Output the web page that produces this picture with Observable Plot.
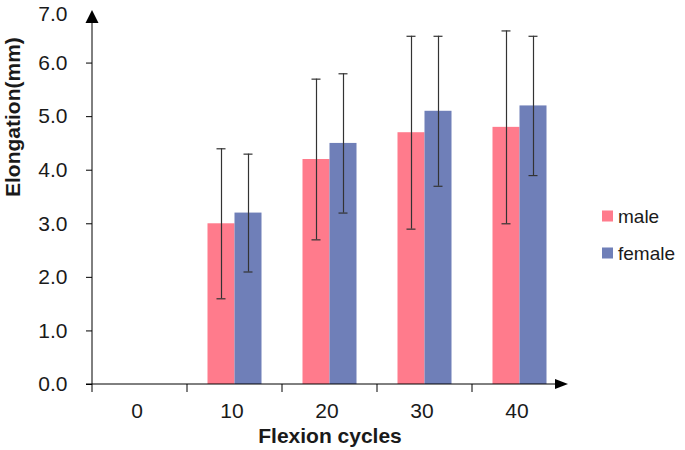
<!DOCTYPE html>
<html>
<head>
<meta charset="utf-8">
<script src="https://cdn.jsdelivr.net/npm/d3@7"></script>
<script src="https://cdn.jsdelivr.net/npm/@observablehq/plot@0.6"></script>
<style>
  html, body { margin: 0; padding: 0; background: #fff; }
  #chart { width: 685px; height: 450px; }
</style>
</head>
<body>
<div id="chart"></div>
<script>
// ---- data ----
const cycles = ["0", "10", "20", "30", "40"];
const series = ["male", "female"];
const seriesColors = ["#ff7b8c", "#6f7fb8"];
const maleMean = [null, 3.0, 4.2, 4.7, 4.8];
const maleLow = [null, 1.6, 2.7, 2.9, 3.0];
const maleHigh = [null, 4.4, 5.7, 6.5, 6.6];
const femaleMean = [null, 3.2, 4.5, 5.1, 5.2];
const femaleLow = [null, 2.1, 3.2, 3.7, 3.9];
const femaleHigh = [null, 4.3, 5.8, 6.5, 6.5];
const yTicks = [0, 1, 2, 3, 4, 5, 6];
const yTopTick = [7];
const xTitle = "Flexion cycles";
const yTitle = "Elongation(mm)";

function rowsFor(mean, lo, hi, sex) {
  const out = [];
  cycles.forEach((c, i) => {
    if (mean[i] != null) out.push({cycle: c, sex, mean: mean[i], lo: lo[i], hi: hi[i]});
  });
  return out;
}
const male = rowsFor(maleMean, maleLow, maleHigh, "male");
const female = rowsFor(femaleMean, femaleLow, femaleHigh, "female");

const W = 685, H = 450;
const mL = 92, mR = 118, mT = 9, mB = 66;
const ink = "#1a1a1a";
const errInk = "#333";

const plot = Plot.plot({
  width: W, height: H,
  marginLeft: mL, marginRight: mR, marginTop: mT, marginBottom: mB,
  style: {fontFamily: "'Liberation Sans', Arial, sans-serif", fontSize: "21px", color: ink, background: "#fff"},
  x: {domain: cycles, padding: 0, axis: null},
  y: {domain: [0, 7], axis: null},
  marks: [
    Plot.barY(male, {x: "cycle", y: "mean", fill: seriesColors[0], insetLeft: 20.5, insetRight: 47.5}),
    Plot.barY(female, {x: "cycle", y: "mean", fill: seriesColors[1], insetLeft: 47.5, insetRight: 20.5}),
    Plot.ruleX(male, {x: "cycle", y1: "lo", y2: "hi", dx: -13.5, stroke: errInk, strokeWidth: 1.2}),
    Plot.ruleX(female, {x: "cycle", y1: "lo", y2: "hi", dx: 13.5, stroke: errInk, strokeWidth: 1.2}),
    Plot.tickY(male, {x: "cycle", y: "hi", insetLeft: 29.5, insetRight: 56.5, stroke: errInk, strokeWidth: 1.2}),
    Plot.tickY(male, {x: "cycle", y: "lo", insetLeft: 29.5, insetRight: 56.5, stroke: errInk, strokeWidth: 1.2}),
    Plot.tickY(female, {x: "cycle", y: "hi", insetLeft: 56.5, insetRight: 29.5, stroke: errInk, strokeWidth: 1.2}),
    Plot.tickY(female, {x: "cycle", y: "lo", insetLeft: 56.5, insetRight: 29.5, stroke: errInk, strokeWidth: 1.2}),
    Plot.axisY(yTicks, {tickSize: 6, tickPadding: 19, tickFormat: d => d.toFixed(1), label: null, stroke: "#000", fill: ink, fontSize: 21}),
    Plot.axisY(yTopTick, {tickSize: 0, tickPadding: 25, tickFormat: d => d.toFixed(1), label: null, fill: ink, fontSize: 21, dy: 5}),
    Plot.axisX({tickSize: 0, tickPadding: 19, label: null, fill: ink, fontSize: 21, dx: -3}),
    Plot.text([xTitle], {text: d => d, frameAnchor: "bottom", dy: 52, lineAnchor: "middle", fontWeight: "bold", fontSize: 21, fill: ink}),
    Plot.text([yTitle], {text: d => d, frameAnchor: "left", rotate: -90, dx: -79, lineAnchor: "middle", fontWeight: "bold", fontSize: 21, fill: ink})
  ]
});

// axis lines, arrows, category boundary ticks (positions from the plot's scales)
const xs = plot.scale("x"), ys = plot.scale("y");
const svg = d3.select(plot);
const g = svg.append("g");
const left = xs.range[0], right = xs.range[1];
const y0 = ys.apply(0), yTop = ys.apply(7);
// y axis line
g.append("line").attr("x1", left).attr("x2", left).attr("y1", y0 + 8).attr("y2", yTop + 12)
  .attr("stroke", "#000").attr("stroke-width", 1);
g.append("path").attr("d", `M${left},${yTop + 1}L${left - 6.5},${yTop + 14}L${left + 6.5},${yTop + 14}Z`).attr("fill", "#000");
// x axis line
g.append("line").attr("x1", left - 6).attr("x2", right - 10).attr("y1", y0).attr("y2", y0)
  .attr("stroke", "#000").attr("stroke-width", 1);
g.append("path").attr("d", `M${right + 1},${y0}L${right - 12},${y0 - 5}L${right - 12},${y0 + 5}Z`).attr("fill", "#000");
// boundary ticks
cycles.slice(1).forEach(c => {
  const x = xs.apply(c);
  g.append("line").attr("x1", x).attr("x2", x).attr("y1", y0).attr("y2", y0 + 8)
    .attr("stroke", "#000").attr("stroke-width", 1);
});
// legend
const lg = svg.append("g").attr("font-size", 19).attr("fill", ink).attr("text-anchor", "start");
series.forEach((s, i) => {
  const cy = 216 + i * 37;
  lg.append("rect").attr("x", 602).attr("y", cy - 5.5).attr("width", 11).attr("height", 11).attr("fill", seriesColors[i]);
  lg.append("text").attr("x", 618).attr("y", cy).attr("dy", "0.35em").attr("text-anchor", "start").text(s);
});

document.getElementById("chart").appendChild(plot);
</script>
</body>
</html>
